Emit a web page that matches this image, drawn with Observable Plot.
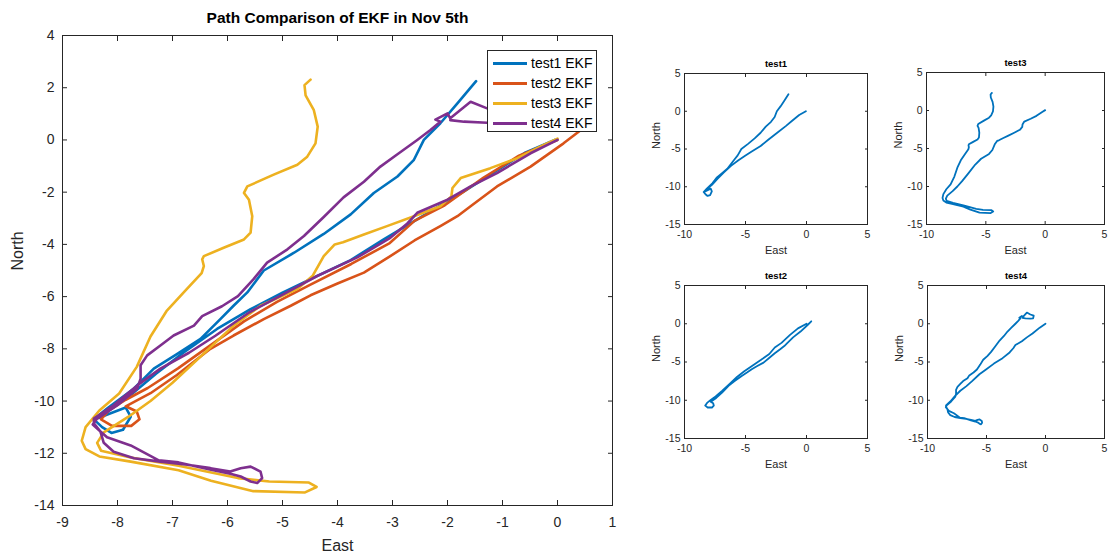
<!DOCTYPE html>
<html><head><meta charset="utf-8">
<script src="https://cdn.jsdelivr.net/npm/d3@7"></script>
<script src="https://cdn.jsdelivr.net/npm/@observablehq/plot@0.6"></script>
<style>
body{margin:0;background:#fff;}
#wrap{position:relative;width:1110px;height:554px;overflow:hidden;font-family:"Liberation Sans",Arial,Helvetica,sans-serif;background:#fff;}
.panel{position:absolute;}
#legend{position:absolute;left:487px;top:50px;width:110px;height:82px;box-sizing:border-box;border:1px solid #262626;background:#fff;font-size:14px;color:#000;}
.row{position:absolute;left:5px;height:20px;display:flex;align-items:center;white-space:nowrap;}
.sw{width:34px;height:3px;margin-right:4px;}
</style></head><body><div id="wrap"></div>
<script>
// ---------- data (East, North) ----------
const seriesNames = ["test1 EKF", "test2 EKF", "test3 EKF", "test4 EKF"];
const panelTitles = ["test1", "test2", "test3", "test4"];
const mainTitle = "Path Comparison of EKF in Nov 5th";
const colors = ["#0072BD", "#D95319", "#EDB120", "#7E2F8E"];
const mainXTicks = [-9, -8, -7, -6, -5, -4, -3, -2, -1, 0, 1];
const mainYTicks = [-14, -12, -10, -8, -6, -4, -2, 0, 2, 4];
const subXTicks = [-10, -5, 0, 5];
const subYTicks = [-15, -10, -5, 0, 5];

const test1 = [[-0.05,0.0],[-0.6,-0.5],[-1.2,-1.3],[-1.7,-1.97],[-2.4,-2.85],[-3.16,-3.81],[-3.76,-4.6],[-4.49,-5.33],[-5.0,-5.85],[-5.58,-6.48],[-6.19,-7.24],[-6.79,-8.13],[-7.3,-8.95],[-7.75,-9.75],[-8.15,-10.3],[-8.35,-10.65],
  [-8.1,-10.45],[-7.85,-10.25],[-7.76,-10.6],[-7.9,-11.1],[-8.11,-11.22],[-8.28,-11.0],[-8.43,-10.7],
  [-8.19,-10.29],[-7.7,-9.52],[-7.34,-8.76],[-6.92,-8.2],[-6.49,-7.62],[-6.13,-6.86],[-5.89,-6.35],[-5.64,-5.84],[-5.34,-5.0],[-4.79,-4.32],[-4.25,-3.6],[-3.76,-2.85],[-3.34,-2.03],[-2.91,-1.4],[-2.61,-0.76],[-2.43,0.0],[-2.13,0.64],[-1.82,1.4],[-1.48,2.25]];

const test2 = [[0,0],[-0.7,-0.6],[-1.35,-1.45],[-2.05,-2.5],[-2.6,-3.1],[-3.05,-3.95],[-3.75,-4.75],[-4.5,-5.55],[-5.1,-6.2],[-5.7,-6.95],[-6.3,-7.85],[-6.9,-8.75],[-7.45,-9.5],[-7.85,-9.95],[-8.15,-10.35],[-8.3,-10.7],
  [-8.1,-10.95],[-7.75,-10.95],[-7.6,-10.7],[-7.65,-10.4],[-7.85,-10.2],
  [-7.4,-9.7],[-6.92,-9.0],[-6.31,-8.0],[-5.89,-7.49],[-5.34,-6.86],[-4.85,-6.35],[-4.49,-5.95],[-4.0,-5.5],[-3.52,-5.08],[-3.04,-4.45],[-2.6,-3.85],[-2.13,-3.3],[-1.82,-2.92],[-1.58,-2.54],[-1.1,-1.78],[-0.49,-1.02],[0.11,-0.13],[0.39,0.32]];

const test3 = [[0.0,0.05],[-0.25,-0.19],[-0.73,-0.7],[-1.22,-1.08],[-1.76,-1.46],[-1.91,-1.84],[-1.93,-2.16],[-2.13,-2.54],[-2.61,-2.92],[-3.1,-3.3],[-3.52,-3.62],[-3.9,-3.92],[-4.05,-4.0],[-4.25,-4.45],[-4.45,-5.2],[-4.73,-5.71],[-5.4,-6.35],[-5.89,-7.11],[-6.49,-8.3],[-7.0,-9.3],[-7.4,-10.0],[-7.8,-10.6],[-8.25,-11.2],[-8.37,-11.6],[-8.3,-11.9],
  [-7.76,-12.16],[-6.89,-12.48],[-5.81,-12.95],[-5.24,-13.08],[-4.52,-13.12],[-4.38,-13.29],[-4.59,-13.5],[-5.53,-13.45],[-6.3,-13.05],[-6.89,-12.65],[-7.76,-12.32],[-8.33,-12.12],[-8.58,-11.84],[-8.65,-11.52],[-8.58,-11.0],[-8.33,-10.36],[-7.97,-9.71],[-7.65,-8.69],[-7.4,-7.53],[-7.11,-6.56],[-6.75,-5.73],[-6.47,-5.1],[-6.43,-4.83],[-6.46,-4.57],[-6.43,-4.45],[-6.07,-4.13],[-5.7,-3.81],[-5.58,-3.55],[-5.55,-2.92],[-5.61,-2.29],[-5.7,-2.03],[-5.64,-1.78],[-5.16,-1.33],[-4.73,-0.95],[-4.55,-0.64],[-4.4,-0.13],[-4.36,0.51],[-4.43,1.14],[-4.58,1.71],[-4.6,2.1],[-4.49,2.31]];

const test4 = [[0,0],[-0.49,-0.51],[-1.1,-1.27],[-1.58,-1.78],[-2.0,-2.29],[-2.55,-2.79],[-2.73,-3.2],[-3.04,-3.75],[-3.64,-4.5],[-4.37,-5.21],[-5.04,-5.97],[-5.6,-6.6],[-6.22,-7.5],[-6.7,-8.15],[-7.22,-8.76],[-7.64,-9.4],[-8.07,-10.16],[-8.43,-10.67],[-8.43,-10.85],[-8.31,-11.17],[-8.25,-11.6],[-8.07,-11.94],[-7.7,-12.19],[-7.22,-12.32],[-6.73,-12.44],[-6.31,-12.57],[-5.95,-12.7],[-5.76,-12.57],[-5.58,-12.51],[-5.4,-12.7],[-5.37,-12.95],[-5.46,-13.14],[-5.58,-13.08],[-5.76,-12.89],[-5.95,-12.78],[-6.32,-12.62],[-6.89,-12.35],[-7.25,-12.27],[-7.76,-11.7],[-8.19,-11.39],[-8.33,-11.13],[-8.45,-10.9],[-8.37,-10.67],[-8.0,-10.16],[-7.64,-9.52],[-7.58,-9.14],[-7.58,-8.63],[-7.46,-8.25],[-7.22,-7.87],[-6.98,-7.49],[-6.61,-7.11],[-6.46,-6.75],[-6.1,-6.37],[-5.81,-5.98],[-5.53,-5.34],[-5.28,-4.7],[-4.91,-4.19],[-4.61,-3.68],[-4.25,-2.95],[-3.89,-2.2],[-3.52,-1.6],[-3.22,-1.02],[-2.91,-0.55],[-2.55,0.0],[-2.31,0.38],[-2.13,0.7],[-2.22,0.78],[-2.0,1.02],[-1.95,0.83],[-1.58,1.46],[-1.28,1.21],[-1.0,1.05],[-1.05,0.7],[-1.28,0.66],[-1.7,0.7],[-1.95,0.76]];

const allSeries = [test1, test2, test3, test4];

// ---------- helpers ----------
const FONT = '"Liberation Sans", Arial, Helvetica, sans-serif';
const AX = "#262626";
const fmt = d => String(d);
const blank = () => "";

function axesMarks(xt, yt, fs, xPad, yPad, tick) {
  return [
    Plot.axisX(xt, {anchor: "bottom", tickSize: 0, tickPadding: xPad, tickFormat: fmt, label: null, fontSize: fs}),
    Plot.axisX(xt, {anchor: "bottom", tickSize: -tick, tickFormat: blank, label: null}),
    Plot.axisX(xt, {anchor: "top", tickSize: -tick, tickFormat: blank, label: null}),
    Plot.axisY(yt, {anchor: "left", tickSize: 0, tickPadding: yPad, tickFormat: fmt, label: null, fontSize: fs}),
    Plot.axisY(yt, {anchor: "left", tickSize: -tick, tickFormat: blank, label: null}),
    Plot.axisY(yt, {anchor: "right", tickSize: -tick, tickFormat: blank, label: null}),
    Plot.frame({stroke: AX, strokeWidth: 1})
  ];
}

const wrap = document.getElementById("wrap");
function place(svg, left, top) {
  const d = document.createElement("div");
  d.className = "panel";
  d.style.left = left + "px";
  d.style.top = top + "px";
  d.appendChild(svg);
  wrap.appendChild(d);
}

// ---------- main chart ----------
const main = Plot.plot({
  width: 625, height: 554,
  marginLeft: 62, marginRight: 13, marginTop: 35, marginBottom: 49,
  x: {domain: [-9, 1]},
  y: {domain: [-14, 4]},
  style: {fontFamily: FONT, fontSize: "14px", color: AX, background: "transparent", overflow: "visible"},
  marks: [
    ...axesMarks(mainXTicks, mainYTicks, 14, 12, 8, 5),
    ...allSeries.map((s, i) => Plot.line(s, {x: d => d[0], y: d => d[1], stroke: colors[i], strokeWidth: 2.6, strokeLinejoin: "round", strokeLinecap: "round"})),
    Plot.text([mainTitle], {frameAnchor: "top", lineAnchor: "middle", dy: -17, fontWeight: "bold", fontSize: 15.5, fill: "#000"}),
    Plot.text(["East"], {frameAnchor: "bottom", lineAnchor: "middle", dy: 40, fontSize: 16, fill: AX}),
    Plot.text(["North"], {frameAnchor: "left", lineAnchor: "middle", dx: -45, rotate: -90, fontSize: 16, fill: AX})
  ]
});
place(main, 0, 0);

// legend (HTML overlay above the plot)
const legend = document.createElement("div");
legend.id = "legend";
seriesNames.forEach((name, i) => {
  const r = document.createElement("div");
  r.className = "row";
  r.style.top = (2 + i * 20) + "px";
  const sw = document.createElement("div");
  sw.className = "sw";
  sw.style.background = colors[i];
  const t = document.createElement("span");
  t.textContent = name;
  r.appendChild(sw); r.appendChild(t);
  legend.appendChild(r);
});
wrap.appendChild(legend);

// ---------- small panels ----------
const panelLayout = [
  {left: 630, top: 45, width: 250, mL: 54, mR: 13, mT: 28, mB: 46},
  {left: 630, top: 257, width: 250, mL: 54, mR: 13, mT: 28, mB: 44},
  {left: 872, top: 45, width: 238, mL: 54, mR: 6, mT: 27, mB: 46},
  {left: 872, top: 257, width: 238, mL: 55, mR: 6, mT: 28, mB: 44}
];
panelLayout.forEach((p, i) => {
  const svg = Plot.plot({
    width: p.width, height: 225,
    marginLeft: p.mL, marginRight: p.mR, marginTop: p.mT, marginBottom: p.mB,
    x: {domain: [-10, 5]},
    y: {domain: [-15, 5]},
    style: {fontFamily: FONT, fontSize: "10.5px", color: AX, background: "transparent", overflow: "visible"},
    marks: [
      ...axesMarks(subXTicks, subYTicks, 10.5, 6, 4, 3),
      Plot.line(allSeries[i], {x: d => d[0], y: d => d[1], stroke: colors[0], strokeWidth: 1.8, strokeLinejoin: "round"}),
      Plot.text([panelTitles[i]], {frameAnchor: "top", lineAnchor: "middle", dy: -10, fontWeight: "bold", fontSize: 9.5, fill: "#000"}),
      Plot.text(["East"], {frameAnchor: "bottom", lineAnchor: "middle", dy: 26, fontSize: 11, fill: AX}),
      Plot.text(["North"], {frameAnchor: "left", lineAnchor: "middle", dx: -28, rotate: -90, fontSize: 11, fill: AX})
    ]
  });
  place(svg, p.left, p.top);
});
</script></body></html>
